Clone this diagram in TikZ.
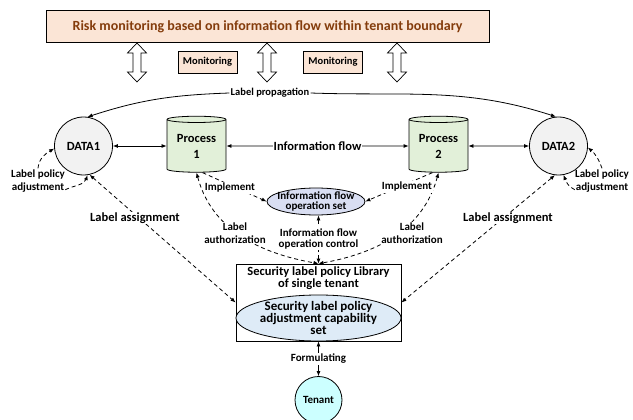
\documentclass[tikz,border=0pt]{standalone}
\usepackage{fontspec}
\setmainfont{Carlito}
\usetikzlibrary{shapes.geometric,arrows.meta}

\definecolor{peach}{HTML}{FBE5D6}
\definecolor{titlebrown}{HTML}{843C0C}
\definecolor{datagray}{HTML}{F2F2F2}
\definecolor{procgreen}{HTML}{E2F0D9}
\definecolor{opsblue}{HTML}{D9DEF2}
\definecolor{capblue}{HTML}{DEEBF7}
\definecolor{tenantcyan}{HTML}{CCFFFF}

\newcommand\fsz[2]{\fontsize{#1}{#2}\selectfont}

\begin{document}
\begin{tikzpicture}[x=1pt,y=1pt,line width=0.8pt,
  smalltext/.style={inner sep=1pt,align=center,font=\bfseries\fsz{11}{13}},
  bigtext/.style={inner sep=1pt,align=center,font=\bfseries\fsz{12.5}{15}},
  onwhite/.style={fill=white},
  monbox/.style={draw,fill=peach,minimum width=59pt,minimum height=22pt,
    inner sep=0pt,font=\bfseries\fsz{10.5}{12}},
  datanode/.style={circle,draw,fill=datagray,minimum size=58pt,inner sep=0pt,
    font=\bfseries\fsz{12.5}{15}},
  procnode/.style={cylinder,shape border rotate=90,draw,fill=procgreen,
    aspect=0.16,minimum width=59pt,minimum height=56pt,inner sep=0pt,
    align=center,font=\bfseries\fsz{12.5}{16}},
  dsh/.style={dash pattern=on 4pt off 3pt},
  arr/.style={-{Latex[length=5pt,width=4pt]}},
  arrtwo/.style={{Latex[length=5pt,width=4pt]}-{Latex[length=5pt,width=4pt]}}]

\useasboundingbox (0,0) rectangle (633,-420);

% monitoring layer
\node[draw,fill=peach,minimum width=443pt,minimum height=32pt,text=titlebrown,
  font=\bfseries\fsz{14}{16}] (title) at (267.5,-26.5)
  {Risk monitoring based on information flow within tenant boundary};
\foreach \cx in {137,267,397}
  \draw[fill=white,line width=0.7pt] (\cx,-43) -- ++(9.5,-10) -- ++(-5.5,0)
    -- ++(0,-19) -- ++(5.5,0) -- (\cx,-82) -- ++(-9.5,10) -- ++(5.5,0)
    -- ++(0,19) -- ++(-5.5,0) -- cycle;
\node[monbox] (mon1) at (207.5,-62) {Monitoring};
\node[monbox] (mon2) at (333,-62) {Monitoring};
\node[inner sep=1pt,font=\bfseries\fsz{10.5}{12}] (prop) at (270,-93) {Label propagation};

% data and processes
\node[datanode] (data1) at (83.5,-146) {DATA1};
\node[datanode] (data2) at (558.5,-146) {DATA2};
\node[procnode] (p1) at (196.5,-146) {Process\\1};
\node[procnode] (p2) at (438.5,-146) {Process\\2};

\node[ellipse,draw,fill=opsblue,minimum width=98pt,minimum height=27pt,
  inner xsep=-5pt,inner ysep=-1pt,align=center,font=\bfseries\fsz{11}{10}]
  (ifo) at (316,-201.5) {Information flow\\operation set};

% tenant policy library
\node[draw,fill=white,minimum width=165pt,minimum height=77pt] (lib) at (318.5,-302.5) {};
\node[inner sep=0pt,align=center,font=\bfseries\fsz{12.5}{12}] (libtxt) at (318.5,-278)
  {Security label policy Library\\of single tenant};
\node[ellipse,draw,fill=capblue,minimum width=165pt,minimum height=46pt,
  inner xsep=-6pt,inner ysep=-2pt,align=center,font=\bfseries\fsz{13}{12}]
  (cap) at (318.5,-318) {Security label policy\\adjustment capability\\set};
\node[smalltext] (form) at (318.5,-359) {Formulating};
\node[circle,draw,fill=tenantcyan,minimum size=47pt,inner sep=0pt,
  font=\bfseries\fsz{11}{13}] (tenant) at (318.5,-400) {Tenant};

\node[smalltext] (lpa1) at (38,-181) {Label policy\\adjustment};
\node[smalltext] (lpa2) at (602,-181) {Label policy\\adjustment};

% solid connectors
\draw[arr] (prop.west) to[out=182,in=18] (data1.82);
\draw[arr] (prop.east) to[out=-2,in=162] (data2.95);
\draw[arrtwo] (data1) -- (p1);
\draw[arrtwo] (p1) -- node[bigtext,onwhite] {Information flow} (p2);
\draw[arrtwo] (p2) -- (data2);
\draw[arr] (form) -- (lib);
\draw[arr] (form) -- (tenant);

% dashed connectors
\draw[dsh,arr] (lpa1.north) to[out=85,in=210] (data1.185);
\draw[dsh,arr] ([xshift=-1pt,yshift=4pt]lpa1.south east) to[out=25,in=-110] (data1.-82);
\draw[dsh,arr] (lpa2.north) to[out=110,in=-40] (data2.-3);
\draw[dsh,arr] ([xshift=1pt,yshift=4pt]lpa2.south west) to[out=155,in=-70] (data2.-80);

\draw[dsh,arrtwo] (data1.-78) -- (lib.west);
\draw[dsh,arrtwo] (data2.-97) -- (lib.east);
\draw[dsh,arrtwo] (p1.south) to[out=-75,in=170] (lib.north);
\draw[dsh,arrtwo] (p2.south) to[out=-105,in=10] (lib.north);
\draw[dsh,arrtwo] (lib.north) -- (lib.north |- ifo.south);
\draw[dsh,arr] ([xshift=6pt]p1.south) -- (ifo.west);
\draw[dsh,arr] ([xshift=-6pt]p2.south) -- (ifo.east);

% connector labels
\node[bigtext,onwhite] (assign1) at (135,-218) {Label assignment};
\node[bigtext,onwhite] (assign2) at (508,-218) {Label assignment};
\node[smalltext,onwhite] (auth1) at (235,-233) {Label\\authorization};
\node[smalltext,onwhite] (auth2) at (412,-233) {Label\\authorization};
\node[smalltext,onwhite,font=\bfseries\fsz{11}{11}] (ctrl) at (318.5,-238.5)
  {Information flow\\operation control};
\node[smalltext,onwhite] (impl1) at (230,-188) {Implement};
\node[smalltext,onwhite] (impl2) at (407,-187) {Implement};
\end{tikzpicture}
\end{document}
